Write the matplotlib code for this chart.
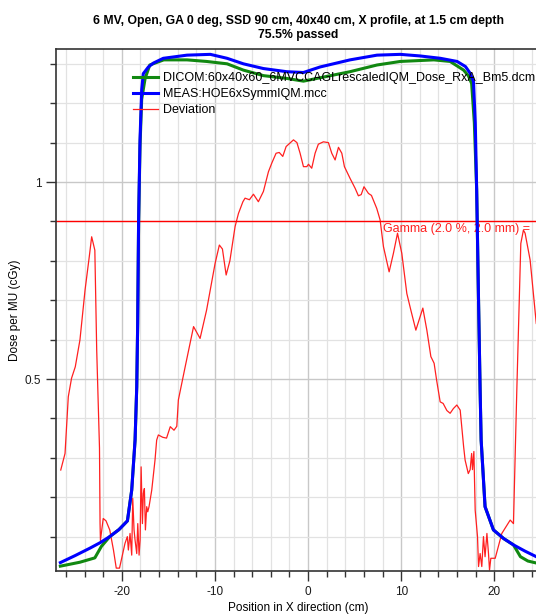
import matplotlib.pyplot as plt
import numpy as np

plt.rcParams['font.family'] = ['Liberation Sans', 'DejaVu Sans']
plt.rcParams['axes.unicode_minus'] = False

# measured profile (MEAS)
meas_x = [-26.6, -25.0, -23.4, -22.3, -21.3, -20.3, -19.4, -18.94, -18.58, -18.4, -18.3, -18.2,
          -18.05, -17.87, -17.7, -17.15, -16.6, -15.55, -13.0, -10.5, -8.7, -6.95, -4.8, -2.3,
          -0.5, 1.29, 4.5, 7.4, 9.9, 12.0, 14.2, 16.0, 16.9, 17.4, 17.76, 17.95, 18.1, 18.3,
          18.47, 18.58, 19.0, 19.9, 21.0, 22.05, 23.3, 24.5]
meas_y = [0.034, 0.052, 0.071, 0.085, 0.100, 0.118, 0.140, 0.218, 0.345, 0.480, 0.640, 0.904,
          1.107, 1.234, 1.275, 1.292, 1.302, 1.314, 1.322, 1.324, 1.314, 1.300, 1.288, 1.280,
          1.278, 1.292, 1.310, 1.322, 1.324, 1.320, 1.314, 1.306, 1.293, 1.276, 1.255, 1.150, 0.980, 0.700,
          0.472, 0.345, 0.176, 0.117, 0.095, 0.079, 0.063, 0.049]

# calculated profile (DICOM)
dicom_x = [-26.6, -24.5, -22.9, -22.2, -21.3, -20.3, -19.4, -18.94, -18.58, -18.4, -18.3, -18.2,
           -18.05, -17.87, -17.5, -17.0, -15.5, -13.0, -10.9, -8.7, -6.95, -4.8, -2.3, -0.5,
           2.0, 4.5, 7.4, 9.9, 13.5, 15.25, 16.7, 17.2, 17.56, 17.85, 18.1, 18.3, 18.47, 18.58,
           19.0, 19.9, 21.0, 22.05, 22.8, 23.6, 24.5]
dicom_y = [0.025, 0.035, 0.046, 0.075, 0.100, 0.118, 0.140, 0.218, 0.345, 0.480, 0.640, 0.900,
           1.090, 1.210, 1.263, 1.297, 1.310, 1.310, 1.306, 1.300, 1.284, 1.270, 1.263, 1.256,
           1.268, 1.280, 1.297, 1.306, 1.310, 1.306, 1.284, 1.270, 1.250, 1.150, 0.980, 0.700,
           0.472, 0.345, 0.176, 0.117, 0.095, 0.079, 0.049, 0.038, 0.033]

# deviation curve
dev_x = [-26.56, -26.1, -25.75, -25.4, -25.0, -24.5, -23.95, -23.5, -23.24, -22.9, -22.7, -22.4,
         -22.34, -22.3, -22.0, -21.7, -21.3, -20.9, -20.6, -20.25, -19.9, -19.66, -19.41, -19.3,
         -19.12, -18.94, -18.83, -18.69, -18.58, -18.4, -18.29, -18.15, -18.04, -17.93, -17.79,
         -17.69, -17.58, -17.47, -17.33, -17.22, -17.08, -16.79, -16.44, -16.26, -16.08, -15.6,
         -15.2, -14.8, -14.4, -14.1, -13.93, -13.2, -12.3, -11.6, -10.9, -9.99, -9.53, -9.2,
         -8.8, -8.4, -7.84, -7.48, -7.0, -6.77, -6.3, -5.87, -5.34, -4.8, -4.26, -3.9, -3.44,
         -3.1, -2.72, -2.36, -1.9, -1.57, -1.2, -0.86, -0.5, -0.14, 0.04, 0.39, 0.75, 1.1,
         1.64, 2.18, 2.54, 2.9, 3.26, 3.62, 3.9, 4.51, 5.05, 5.4, 5.7, 6.0, 6.48, 6.8, 7.37,
         7.73, 8.09, 8.7, 9.16, 9.6, 10.06, 10.6, 11.03, 11.57, 12.32, 12.75, 13.18, 13.53,
         13.8, 14.18, 14.5, 14.9, 15.25, 15.6, 15.97, 16.33, 16.7, 16.86, 17.2, 17.4, 17.56,
         17.65, 17.8, 17.94, 18.05, 18.19, 18.3, 18.47, 18.65, 18.83, 19.0, 19.2, 19.37, 19.48,
         19.62, 20.09, 20.8, 21.7, 22.05, 22.23, 22.41, 22.84, 23.12, 23.3, 23.84, 24.5]
dev_y = [0.269, 0.311, 0.455, 0.502, 0.531, 0.599, 0.726, 0.810, 0.861, 0.827, 0.574, 0.325,
         0.134, 0.090, 0.146, 0.140, 0.117, 0.066, 0.020, 0.020, 0.058, 0.083, 0.100, 0.066,
         0.108, 0.053, 0.197, 0.117, 0.091, 0.057, 0.133, 0.053, 0.091, 0.277, 0.133,
         0.210, 0.222, 0.117, 0.176, 0.163, 0.176, 0.218, 0.294, 0.345, 0.358, 0.352,
         0.350, 0.379, 0.370, 0.380, 0.447, 0.531, 0.633, 0.603, 0.675, 0.793, 0.840, 0.830,
         0.764, 0.800, 0.887, 0.920, 0.950, 0.959, 0.955, 0.969, 0.950, 0.976, 1.026, 1.048, 1.073,
         1.075, 1.065, 1.090, 1.100, 1.107, 1.100, 1.073, 1.039, 1.039, 1.045, 1.035, 1.073, 1.096,
         1.102, 1.100, 1.073, 1.056, 1.088, 1.073, 1.039, 1.009, 0.984, 0.965, 0.968, 0.988, 0.971, 0.966, 0.933,
         0.904, 0.836, 0.772, 0.819, 0.870, 0.819, 0.717, 0.675, 0.624, 0.680, 0.624, 0.557, 0.540,
         0.497, 0.442, 0.438, 0.420, 0.413, 0.425, 0.434, 0.421, 0.328, 0.294, 0.260, 0.270, 0.311,
         0.270, 0.316, 0.167, 0.138, 0.100, 0.024, 0.057, 0.024, 0.100, 0.049, 0.108, 0.057, 0.015,
         0.045, 0.045, 0.108, 0.142, 0.133, 0.303, 0.472, 0.844, 0.878, 0.870, 0.802, 0.641]

gamma_level = 0.9
gamma_text = 'Gamma (2.0 %, 2.0 mm) ='
title = '6 MV, Open, GA 0 deg, SSD 90 cm, 40x40 cm, X profile, at 1.5 cm depth\n75.5% passed'

fig = plt.figure(figsize=(5.36, 6.14), dpi=100)
ax = fig.add_axes([56/536, 1-571/614, 484/536, 522/614])

ax.plot(dicom_x, dicom_y, color='#118811', lw=2.2, label='DICOM:60x40x60_6MVCCAGLrescaledIQM_Dose_RxA_Bm5.dcm', zorder=3)
ax.plot(meas_x, meas_y, color='#0000ff', lw=2.2, label='MEAS:HOE6xSymmIQM.mcc', zorder=4)
ax.plot(dev_x, dev_y, color='#ff2020', lw=0.9, label='Deviation', zorder=2)
ax.axhline(gamma_level, color='#ff0000', lw=1.0, zorder=2)
ax.text(8.06, gamma_level - 0.004, gamma_text, color='#ff2020', fontsize=9, va='top', ha='left')

ax.set_xlim(-27.07, 24.9)
ax.set_ylim(0.0127, 1.3376)
ax.set_xticks([-20, -10, 0, 10, 20])
ax.set_xticks(np.arange(-26, 25, 2), minor=True)
ax.set_yticks([0.5, 1.0])
ax.set_yticklabels(['0.5', '1'])
ax.set_yticks(np.arange(0.1, 1.35, 0.1), minor=True)
ax.grid(True, which='minor', color='#e2e2e2', lw=0.9)
ax.grid(True, which='major', color='#c8c8c8', lw=1.0)
ax.set_axisbelow(True)
ax.tick_params(which='major', length=7, width=1, labelsize=8.5, colors='#333333', labelcolor='#1a1a1a')
ax.tick_params(which='minor', length=4, width=1, colors='#333333')
for s in ax.spines.values():
    s.set_color('#333333')
    s.set_linewidth(1.2)

ax.set_xlabel('Position in X direction (cm)', fontsize=8.5, labelpad=3)
ax.set_ylabel('Dose per MU (cGy)', fontsize=8.5, labelpad=3)
ax.set_title(title, fontsize=8.8, fontweight='bold', pad=8)

ax.legend(loc='upper left', bbox_to_anchor=(0.16, 0.955), frameon=False, fontsize=9,
          handlelength=2.0, handletextpad=0.4, labelspacing=0.3, borderpad=0, borderaxespad=0)

fig.savefig('out.png', dpi=100)
